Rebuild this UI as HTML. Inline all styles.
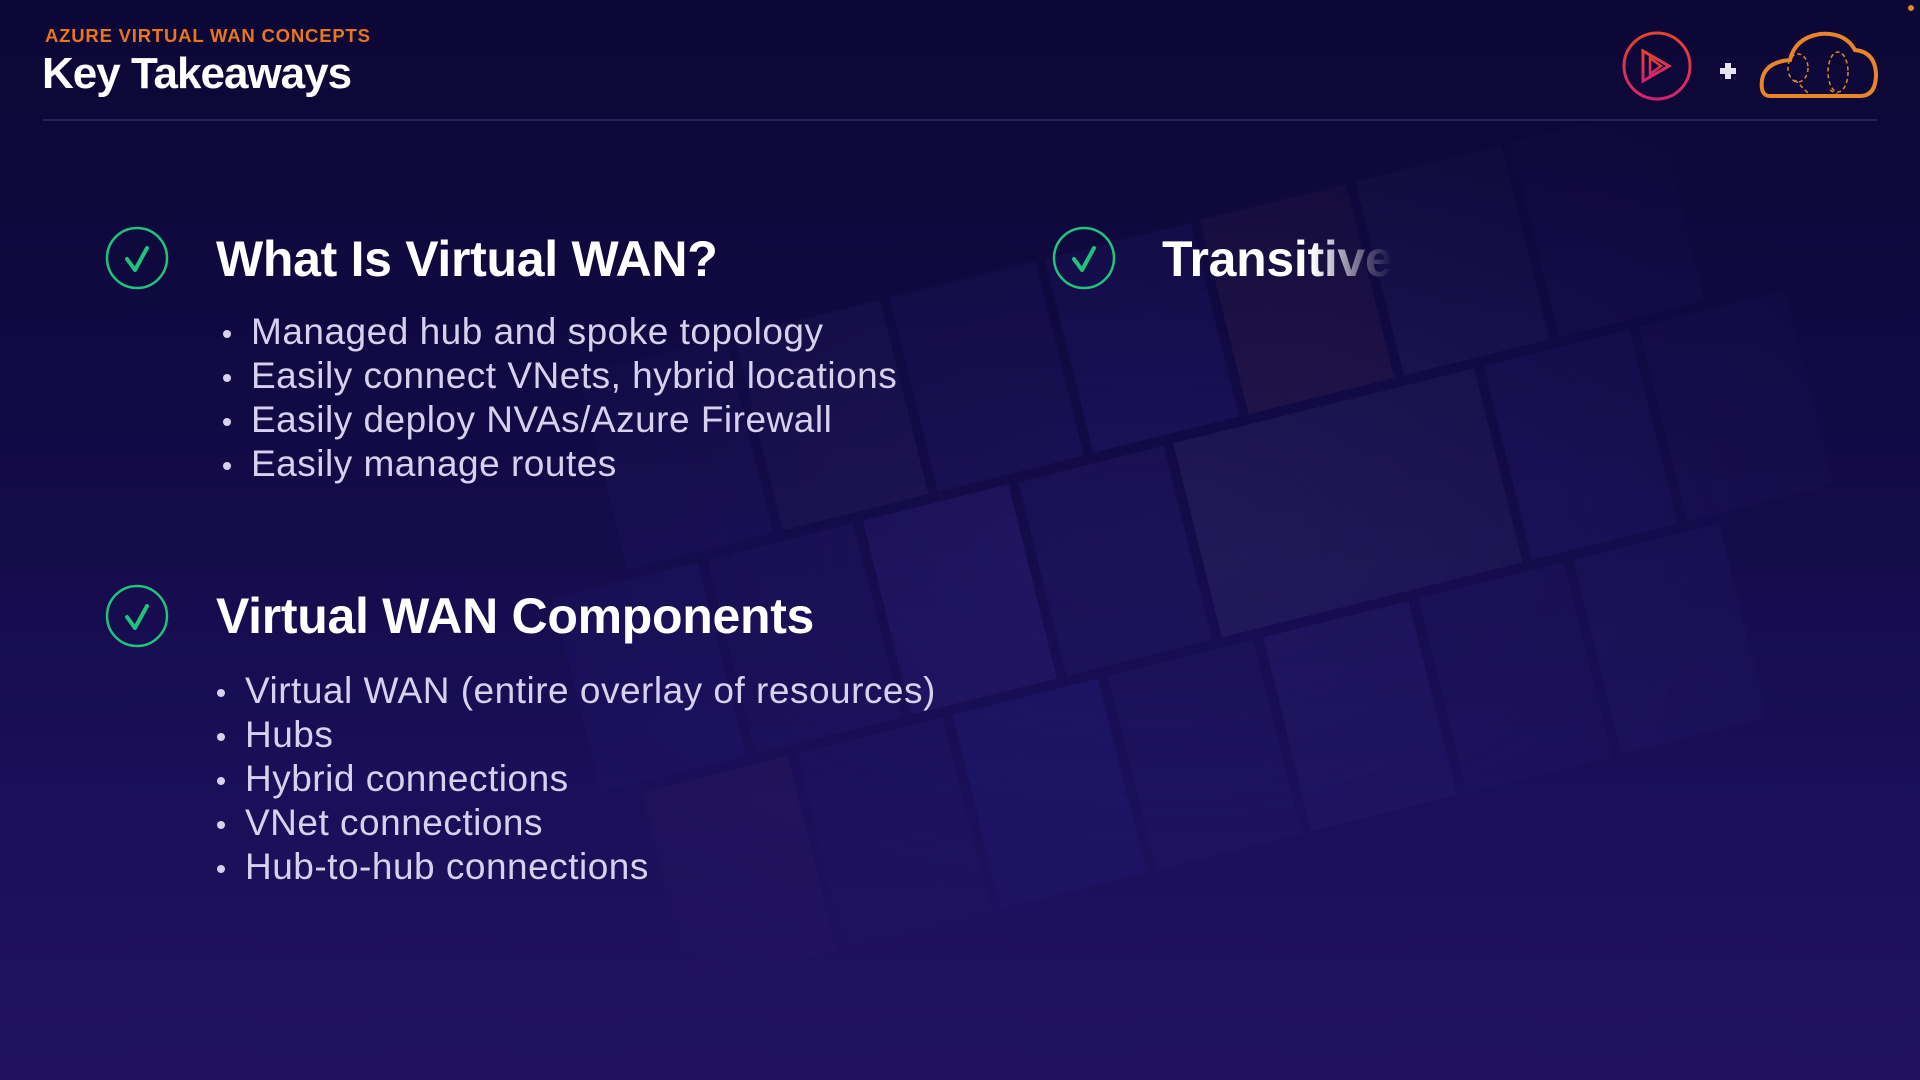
<!DOCTYPE html>
<html><head><meta charset="utf-8"><style>
html,body{margin:0;padding:0}
body{width:1920px;height:1080px;overflow:hidden;position:relative;font-family:"Liberation Sans",sans-serif;
background:linear-gradient(180deg,#0c0735 0%,#120a45 40%,#1b0f5a 75%,#20125f 100%);}
.abs{position:absolute;white-space:nowrap}
.sub{left:45px;top:25px;font-size:18.5px;font-weight:bold;color:#e8761e;letter-spacing:0.8px}
.title{left:42px;top:49px;font-size:44px;font-weight:bold;color:#fff;letter-spacing:-1px}
.rule{left:43px;top:119px;width:1834px;height:2px;background:#252250}
.h{font-size:50px;font-weight:bold;color:#fff;letter-spacing:-0.3px}
ul{position:absolute;margin:0;padding:0;list-style:none;color:#d6d2ee;font-size:37px;letter-spacing:0.5px}
li{height:44px;line-height:44px;position:relative}
li:before{content:"";position:absolute;left:-28px;top:20px;width:8px;height:8px;border-radius:50%;background:#d6d2ee}
.trans{background:linear-gradient(90deg,#fff 0px,#fff 150px,rgba(255,255,255,0.3) 205px,rgba(255,255,255,0) 230px);-webkit-background-clip:text;background-clip:text;color:transparent}
</style></head><body>
<svg class="abs" style="left:0;top:0" width="1920" height="1080">
<defs>
<radialGradient id="m" cx="0.6" cy="0.5" r="0.5"><stop offset="0" stop-color="#fff" stop-opacity="1"/><stop offset="1" stop-color="#fff" stop-opacity="0"/></radialGradient>
<mask id="mk"><rect width="1920" height="1080" fill="url(#m)"/></mask>
</defs>
<g mask="url(#mk)" opacity="0.35">
<g transform="rotate(-14 1200 550)">
<g fill="#2a2070">
<rect x="640" y="230" width="150" height="200"/><rect x="800" y="230" width="150" height="200" fill="#332a6a"/><rect x="960" y="230" width="150" height="200"/><rect x="1120" y="230" width="150" height="200" fill="#2d2280"/><rect x="1280" y="230" width="150" height="200" fill="#4a3050"/><rect x="1440" y="230" width="150" height="200" fill="#3a3470"/><rect x="1600" y="230" width="150" height="200"/>
<rect x="560" y="440" width="150" height="200" fill="#2c2585"/><rect x="720" y="440" width="150" height="200"/><rect x="880" y="440" width="150" height="200" fill="#3a2a8a"/><rect x="1040" y="440" width="150" height="200"/><rect x="1200" y="440" width="310" height="200" fill="#3b3572"/><rect x="1520" y="440" width="150" height="200" fill="#2f2a82"/><rect x="1680" y="440" width="150" height="200"/>
<rect x="600" y="650" width="150" height="200" fill="#4a2f6a"/><rect x="760" y="650" width="150" height="200"/><rect x="920" y="650" width="150" height="200" fill="#2a2a90"/><rect x="1080" y="650" width="150" height="200"/><rect x="1240" y="650" width="150" height="200" fill="#352a80"/><rect x="1400" y="650" width="150" height="200"/><rect x="1560" y="650" width="150" height="200" fill="#2f2a7a"/>
</g></g></g>
<defs><linearGradient id="pg" x1="0" y1="0" x2="0" y2="1"><stop offset="0" stop-color="#e5432f"/><stop offset="1" stop-color="#d2246e"/></linearGradient></defs>
<circle cx="1657" cy="66" r="33" fill="none" stroke="url(#pg)" stroke-width="3"/>
<polygon points="1643,51 1643,81 1669,66" fill="none" stroke="url(#pg)" stroke-width="3"/>
<polygon points="1650,58 1650,74 1661,66" fill="none" stroke="url(#pg)" stroke-width="2.5"/>
<rect x="1720" y="68" width="16" height="6" fill="#e6e4f0"/><rect x="1725" y="63" width="6" height="16" fill="#e6e4f0"/>
<path d="M1770 96 Q1760 96 1762 80 Q1765 62 1790 60 Q1795 38 1820 34 Q1845 32 1855 50 Q1875 52 1876 74 Q1876 96 1860 96 Z" fill="none" stroke="#e8852a" stroke-width="4"/>
<g fill="none" stroke="#e8852a" stroke-width="1.5" stroke-dasharray="4 3"><ellipse cx="1798" cy="68" rx="10" ry="14"/><ellipse cx="1838" cy="72" rx="10" ry="20"/><path d="M1795 80 L1810 95 M1830 90 L1840 96"/></g>
<circle cx="1911" cy="8" r="3" fill="#e8852a"/>
<g fill="none" stroke="#1fc47a" stroke-width="2.5">
<circle cx="137" cy="258" r="30"/><polyline points="127,259 135,270 147,248" stroke-width="4" stroke-linecap="round" stroke-linejoin="round"/>
<circle cx="137" cy="616" r="30"/><polyline points="127,617 135,628 147,606" stroke-width="4" stroke-linecap="round" stroke-linejoin="round"/>
<circle cx="1084" cy="258" r="30"/><polyline points="1074,259 1082,270 1094,248" stroke-width="4" stroke-linecap="round" stroke-linejoin="round"/>
</g>
</svg>
<div class="abs sub">AZURE VIRTUAL WAN CONCEPTS</div>
<div class="abs title">Key Takeaways</div>
<div class="abs rule"></div>
<div class="abs h" style="left:216px;top:230px">What Is Virtual WAN?</div>
<ul style="left:251px;top:310px">
<li>Managed hub and spoke topology</li><li>Easily connect VNets, hybrid locations</li><li>Easily deploy NVAs/Azure Firewall</li><li>Easily manage routes</li></ul>
<div class="abs h" style="left:216px;top:587px">Virtual WAN Components</div>
<ul style="left:245px;top:669px">
<li>Virtual WAN (entire overlay of resources)</li><li>Hubs</li><li>Hybrid connections</li><li>VNet connections</li><li>Hub-to-hub connections</li></ul>
<div class="abs h trans" style="left:1162px;top:230px;width:240px">Transitive</div>
</body></html>
